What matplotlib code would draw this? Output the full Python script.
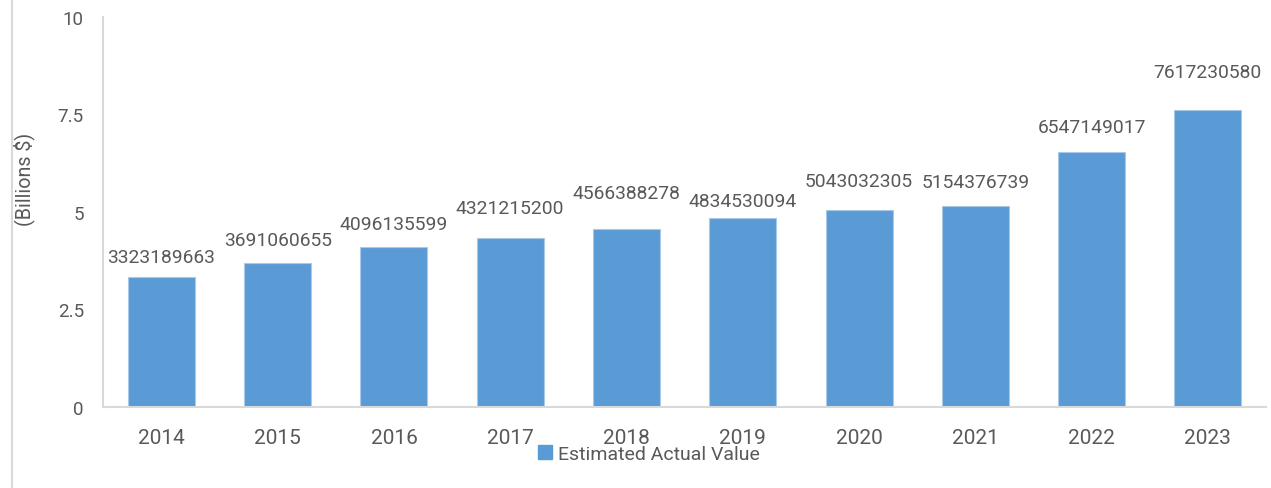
import matplotlib
matplotlib.use('Agg')
import matplotlib.pyplot as plt
from matplotlib.lines import Line2D
from matplotlib.patches import Patch

plt.rcParams['font.family'] = ['Roboto', 'DejaVu Sans']

# 数据
years = ['2014', '2015', '2016', '2017', '2018', '2019', '2020', '2021', '2022', '2023']
actual_value = [3323189663, 3691060655, 4096135599, 4321215200, 4566388278,
                4834530094, 5043032305, 5154376739, 6547149017, 7617230580]
series_name = 'Estimated Actual Value'
y_ticks = [0, 2.5, 5, 7.5, 10]
y_tick_labels = ['0', '2.5', '5', '7.5', '10']

# 标签偏移（像素，手动调整过的位置）
label_gap_px = [15, 18, 18, 25, 31, 12, 24, 19, 20, 33]

bar_color = '#5B9BD5'
text_color = '#595959'
spine_color = '#D9D9D9'

fig = plt.figure(figsize=(12.71, 4.89), dpi=100)
ax = fig.add_axes([103.3 / 1271, 81 / 489, 1162.7 / 1271, 390 / 489])

xs = list(range(len(years)))
billions = [v / 1e9 for v in actual_value]
ax.bar(xs, billions, width=0.576, color=bar_color, edgecolor='#A9C9EA', linewidth=0.8)

# 数据标签
for x, y, v, g in zip(xs, billions, actual_value, label_gap_px):
    ax.annotate(str(v), (x, y), xytext=(0, g * 0.72), textcoords='offset points',
                ha='center', va='baseline', fontsize=13.9, color=text_color)

ax.set_xlim(-0.5, len(years) - 0.5)
ax.set_ylim(0, 10)
ax.set_xticks(xs)
ax.set_xticklabels(years)
ax.set_yticks(y_ticks)
ax.set_yticklabels(y_tick_labels)
ax.tick_params(axis='x', length=0, pad=15, labelsize=15, labelcolor=text_color)
ax.tick_params(axis='y', length=0, pad=14, labelsize=13.5, labelcolor=text_color)

for s in ['top', 'right']:
    ax.spines[s].set_visible(False)
for s in ['left', 'bottom']:
    ax.spines[s].set_color(spine_color)
    ax.spines[s].set_linewidth(1.5)

ax.set_ylabel('(Billions $)', fontsize=14.2, color=text_color)
ax.yaxis.set_label_coords(-0.0585, 0.585)

# 图例
handle = Patch(facecolor=bar_color, edgecolor=bar_color)
fig.legend([handle], [series_name], loc='center', bbox_to_anchor=(649 / 1271, 1 - 455 / 489),
           frameon=False, fontsize=14, labelcolor=text_color, handlelength=0.7,
           handleheight=0.7, handletextpad=0.3, borderpad=0)

# 外边框
fig.add_artist(Line2D([12 / 1271, 12 / 1271], [0, 1], color=spine_color, linewidth=1.5))

plt.savefig('out.png', dpi=100)
